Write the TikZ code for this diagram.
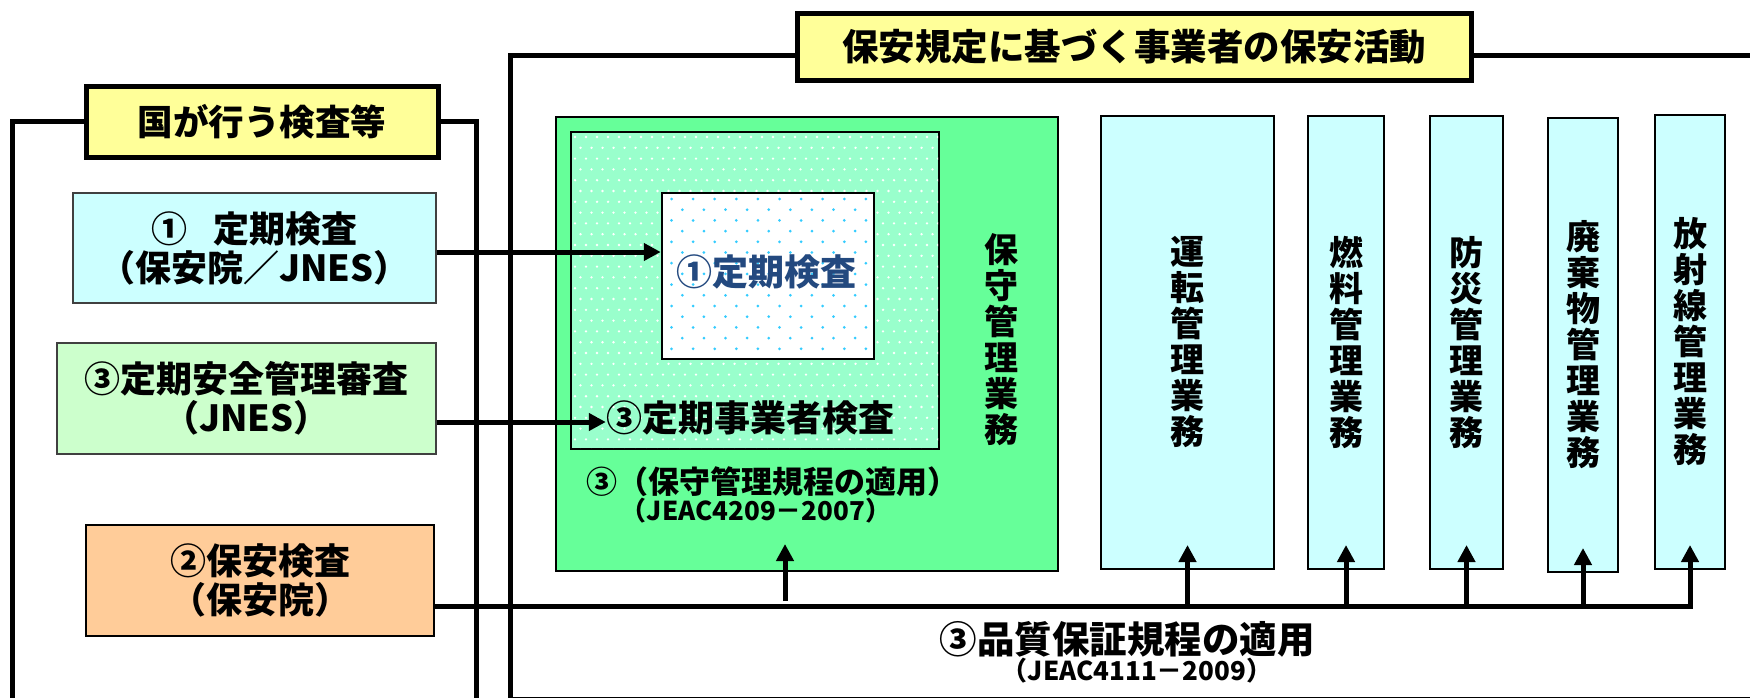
\documentclass[tikz,border=0pt]{standalone}
\usepackage{fontspec}
\setmainfont{Noto Sans CJK JP}
\usetikzlibrary{arrows.meta}
\definecolor{ttl}{HTML}{FFFF99}
\definecolor{cy}{HTML}{CCFFFF}
\definecolor{lg}{HTML}{CCFFCC}
\definecolor{og}{HTML}{FFCC99}
\definecolor{gr}{HTML}{66FF99}
\definecolor{mint}{HTML}{99FFCC}
\definecolor{dotc}{HTML}{33CCFF}
\definecolor{navy}{HTML}{23497F}
\tikzset{
  frameline/.style={line width=5pt},
  titlebox/.style={draw, line width=5pt, fill=ttl, inner sep=0pt, font=\bfseries\fontsize{35.5}{38}\selectfont},
  infobox/.style={draw=black!75, line width=1.5pt, inner sep=0pt, align=center, font=\bfseries\fontsize{36}{39}\selectfont},
  vbox/.style={draw, line width=2pt, fill=cy, inner sep=0pt},
  vtext/.style={inner sep=0pt, align=center, font=\bfseries\fontsize{34}{36}\selectfont},
  bigtext/.style={inner sep=0pt, font=\bfseries\fontsize{36}{39}\selectfont},
  midtext/.style={inner sep=0pt, font=\bfseries\fontsize{31}{33}\selectfont},
  smalltext/.style={inner sep=0pt, font=\bfseries\fontsize{26}{28}\selectfont},
  arr/.style={line width=5pt, -{Triangle[length=17pt,width=17pt]}},
  busline/.style={line width=5pt}
}
\begin{document}
\begin{tikzpicture}[x=1pt,y=-1pt]
\useasboundingbox (0,0) rectangle (1750,697);

% frames
\draw[frameline] (12,720) -- (12,121) -- (476,121) -- (476,720);
\draw[frameline] (510,699) -- (510,55) -- (1770,55);
\draw[frameline] (510,699) -- (1770,699);

% titles
\node[titlebox, minimum width=352pt, minimum height=71pt] (t1) at (262,121.5) {国が行う検査等};
\node[titlebox, font=\bfseries\fontsize{36.5}{38}\selectfont, minimum width=674pt, minimum height=67pt] (t2) at (1134,46.5) {保安規定に基づく事業者の保安活動};

% left boxes
\node[infobox, fill=cy, minimum width=363pt, minimum height=110pt] (b1) at (254.5,248) {①\hspace{0.7em}定期検査\\（保安院／JNES）};
\node[infobox, fill=lg, minimum width=379pt, minimum height=111pt] (b3) at (246.5,398.5) {③定期安全管理審査\\（JNES）};
\node[infobox, draw=black, line width=2pt, fill=og, minimum width=348pt, minimum height=111pt] (b2) at (260,580.5) {②保安検査\\（保安院）};

% green box
\node[draw, line width=2pt, fill=gr, minimum width=502pt, minimum height=454pt, inner sep=0pt] (green) at (807,344) {};
\node[draw, line width=2pt, fill=mint, minimum width=368pt, minimum height=317pt, inner sep=0pt] (dotted) at (755,290.5) {};
\begin{scope}
  \clip ([shift={(2,-2)}]dotted.south west) rectangle ([shift={(-2,2)}]dotted.north east);
  \foreach \j in {0,...,29} {
    \foreach \i in {0,...,34} {
      \fill[white] ({575+\i*11+mod(\j,2)*5.5},{137+\j*10.8}) circle (1.3pt);
    }
  }
\end{scope}
\node[draw, line width=2.5pt, fill=white, minimum width=212pt, minimum height=166pt, inner sep=0pt] (white) at (768,276) {};
\begin{scope}
  \clip ([shift={(3,-3)}]white.south west) rectangle ([shift={(-3,3)}]white.north east);
  \foreach \j in {0,...,15} {
    \foreach \i in {0,...,10} {
      \fill[dotc] ({671.5+\i*21.6+mod(\j,2)*10.8},{199+\j*10.7}) circle (1.5pt);
    }
  }
\end{scope}
\node[bigtext, text=navy] (tx1) at (766,272) {①定期検査};
\node[bigtext] (tx3) at (750,418) {③定期事業者検査};
\node[midtext] (txg1) at (772,482) {③（保守管理規程の適用）};
\node[smalltext] (txg2) at (756,511) {（JEAC4209－2007）};
\node[vtext] (vg) at (1001,340) {保\\守\\管\\理\\業\\務};

% right boxes
\node[vbox, minimum width=173pt, minimum height=453pt] (unten) at (1187.5,342.5) {};
\node[vbox, minimum width=76pt, minimum height=453pt] (nenryo) at (1346,342.5) {};
\node[vbox, minimum width=73pt, minimum height=453pt] (bousai) at (1466.5,342.5) {};
\node[vbox, minimum width=70pt, minimum height=454pt] (haiki) at (1583,345) {};
\node[vbox, minimum width=70pt, minimum height=454pt] (housha) at (1690,342) {};
\node[vtext] (vt1) at (unten) {運\\転\\管\\理\\業\\務};
\node[vtext] (vt2) at (nenryo) {燃\\料\\管\\理\\業\\務};
\node[vtext] (vt3) at (bousai) {防\\災\\管\\理\\業\\務};
\node[vtext] (vt4) at (haiki) {廃\\棄\\物\\管\\理\\業\\務};
\node[vtext] (vt5) at (housha) {放\\射\\線\\管\\理\\業\\務};

% bottom labels
\node[bigtext, font=\bfseries\fontsize{37.5}{40}\selectfont] (txq1) at (1127,639) {③品質保証規程の適用};
\node[smalltext] (txq2) at (1137,671) {（JEAC4111－2009）};

% connectors
\coordinate (y1) at (0,252);
\coordinate (y3) at (0,422);
\coordinate (yb) at (0,606);
\draw[arr] (b1.east |- y1) -- (white.west |- y1);
\draw[arr] (b3.east |- y3) -- (tx3.west |- y3);
\draw[busline, arr] (b2.east |- yb) -- (housha.south |- yb) -- ([shift={(0,-25)}]housha.south);
\foreach \b in {unten,nenryo,bousai,haiki} {
  \draw[arr] (\b.south |- yb) -- ([shift={(0,-25)}]\b.south);
}
\coordinate (g0) at (785,601);
\path (green.south -| g0) ++(0,-28) coordinate (g1);
\draw[arr] (g0) -- (g1);
\end{tikzpicture}
\end{document}
